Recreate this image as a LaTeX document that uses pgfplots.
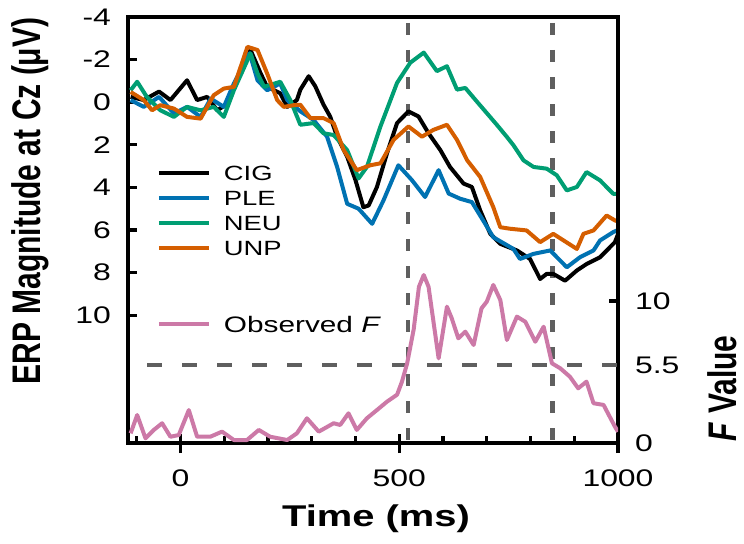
\documentclass[border=0pt]{standalone}
\usepackage{fontspec}
\setmainfont{Liberation Sans}[FakeStretch=1.33]
\newfontfamily\plainfont{Liberation Sans}
\usepackage{graphicx}
\usepackage{pgfplots}
\pgfplotsset{compat=1.18}
\definecolor{cig}{RGB}{0,0,0}
\definecolor{ple}{RGB}{0,114,178}
\definecolor{neu}{RGB}{0,158,115}
\definecolor{unp}{RGB}{213,94,0}
\definecolor{fcol}{RGB}{204,121,167}
\definecolor{dgray}{RGB}{95,95,95}
\begin{document}
\begin{tikzpicture}
\begin{axis}[
  scale only axis, width=245pt, height=213pt,
  xmin=-120, xmax=1000, ymin=-4, ymax=16, y dir=reverse,
  axis line style={line width=2.2pt},
  xtick={0,500,1000}, xticklabels={0,500,1000},
  minor xtick={-100,100,200,300,400,600,700,800,900},
  ytick={-4,-2,0,2,4,6,8,10}, yticklabels={-4,-2,0,2,4,6,8,10},
  xtick pos=bottom, ytick pos=left, tick align=inside,
  major tick length=4.5pt, minor tick length=3.5pt,
  tick style={black, line width=1.6pt},
  extra x ticks={0,500,1000}, extra x tick labels={},
  extra x tick style={tick align=outside, major tick length=5pt},
  /pgf/number format/assume math mode=true,
  tick label style={font=\fontsize{12}{14}\selectfont},
  yticklabel style={xshift=-5pt},
  xticklabel style={yshift=-10pt},
  legend style={draw=none, fill=none, at={(0.059,0.652)}, anchor=north west,
    inner sep=0pt, outer sep=0pt, font=\fontsize{10.3}{12}\selectfont,
    row sep=5pt, column sep=6.5pt,
    nodes={inner sep=0pt, text height=7.5pt, text depth=0pt}},
  legend cell align=left,
  legend image code/.code={\draw[#1, line width=2pt] (0pt,0pt) -- (25pt,0pt);},
]
\addplot[dgray, line width=2.2pt, dash pattern=on 6pt off 7.5pt, dash phase=10.5pt, forget plot] coordinates {(520,-4) (520,16)};
\addplot[dgray, line width=2.2pt, dash pattern=on 6pt off 7.5pt, dash phase=10.5pt, forget plot] coordinates {(850,-4) (850,16)};

\addplot[cig, line width=2pt, line join=round] coordinates {
(-114,-0.25) (-84,-0.1) (-49,-0.5) (-23,-0.1) (15,-1.03) (38,-0.1) (61,-0.25) (84,0.38) (105,0.1) (122,-0.7)
(160,-2.45) (183,-1.36) (198,-0.72) (228,-0.42) (244,0.22) (266,-0.1) (274,-0.59) (293,-1.22) (308,-0.75)
(327,0.12) (342,0.67) (358,1.62) (381,2.56) (400,3.66) (418,4.93) (430,4.85) (449,3.98) (472,2.4) (495,0.98)
(521,0.43) (544,0.67) (567,1.46) (594,2.25) (616,3.04) (647,3.82) (666,3.98) (685,5.08) (708,6.18)
(731,6.65) (769,6.96) (799,7.36) (822,8.3) (837,8.06)
(852,8.06) (879,8.38) (906,7.9) (928,7.6) (959,7.28) (993,6.57) (1000,6.2)};
\addlegendentry{CIG}

\addplot[ple, line width=2pt, line join=round] coordinates {
(-114,-0.1) (-84,0.22) (-49,-0.25) (-15,0.53) (15,0.22) (46,0.69) (69,-0.17) (99,0.22) (122,-0.88) (158,-2.3)
(176,-1.03) (198,-0.56) (228,-0.88) (244,-0.1) (274,0.43) (304,0.83) (335,1.62) (358,3.04) (381,4.77) (407,5.0)
(438,5.71) (464,4.61) (498,2.96) (529,3.66) (559,4.45) (590,3.19) (613,4.29) (639,4.53) (666,4.69) (692,5.56)
(715,6.34) (761,6.89) (776,7.36) (807,7.12) (845,6.96) (883,7.75) (913,7.28) (944,6.96) (959,6.49) (989,6.1) (1000,6.0)};
\addlegendentry{PLE}

\addplot[neu, line width=2pt, line join=round] coordinates {
(-114,-0.56) (-99,-0.96) (-77,-0.25) (-46,0.38) (-15,0.69) (15,0.22) (46,0.38) (76,0.22) (99,0.69) (122,-0.56)
(160,-2.29) (176,-1.35) (191,-0.72) (228,-0.96) (251,-0.1) (274,1.06) (304,0.98) (327,1.46) (350,1.54) (381,2.25)
(407,3.58) (426,3.04) (457,1.14) (495,-0.91) (525,-1.85) (556,-2.33) (586,-1.46) (609,-1.69) (632,-0.59) (651,-0.67)
(677,-0.04) (700,0.51) (723,1.06) (746,1.63) (761,2.02) (784,2.73) (807,3.04) (837,3.12) (860,3.43)
(883,4.14) (906,3.98) (928,3.28) (959,3.67) (989,4.3) (1000,4.3)};
\addlegendentry{NEU}

\addplot[unp, line width=2pt, line join=round] coordinates {
(-114,-0.48) (-84,-0.1) (-65,0.38) (-46,0.14) (-15,0.3) (15,0.69) (46,0.77) (76,-0.33) (99,-0.64) (122,-0.72)
(153,-2.6) (176,-2.45) (198,-1.35) (221,-0.1) (236,0.22) (259,0.14) (274,0.12) (297,0.75) (327,0.75) (350,0.98)
(373,2.25) (403,3.19) (434,2.96) (457,2.87) (487,1.77) (521,1.14) (552,1.62) (578,1.3) (609,1.06) (632,1.77)
(655,2.72) (685,3.51) (715,4.93) (731,5.87) (753,5.94) (791,6.02) (822,6.57) (852,6.18) (906,6.89) (921,6.18)
(944,6.02) (974,5.32) (993,5.55) (1000,5.6)};
\addlegendentry{UNP}
\end{axis}

\begin{axis}[
  scale only axis, width=245pt, height=213pt,
  xmin=-120, xmax=1000, ymin=0, ymax=30,
  axis x line=none, axis y line*=right,
  axis line style={line width=2.2pt},
  ytick={0,5.5,10}, yticklabels={0,5.5,10},
  tick align=inside, major tick length=4.5pt,
  tick style={black, line width=1.6pt},
  /pgf/number format/assume math mode=true,
  tick label style={font=\fontsize{12}{14}\selectfont},
  yticklabel style={xshift=5pt},
  legend style={draw=none, fill=none, at={(0.059,0.298)}, anchor=north west,
    inner sep=0pt, outer sep=0pt, font=\fontsize{11.2}{13}\selectfont,
    column sep=6.5pt,
    nodes={inner sep=0pt, text height=8pt, text depth=0pt}},
  legend cell align=left,
  legend image code/.code={\draw[#1, line width=2pt] (0pt,0pt) -- (25pt,0pt);},
]
\addplot[dgray, line width=2pt, dash pattern=on 7.5pt off 10pt, dash phase=8pt, forget plot] coordinates {(-120,5.5) (1000,5.5)};
\addplot[fcol, line width=2pt, line join=round] coordinates {
(-114,0.68) (-99,1.97) (-80,0.33) (-61,0.92) (-42,1.39) (-23,0.44) (-4,0.56) (19,2.32) (38,0.44) (68,0.44)
(95,0.8) (122,0.21) (152,0.21) (179,0.92) (205,0.44) (244,0.21) (266,0.68) (289,1.74) (316,0.8) (350,1.39)
(365,1.27) (384,2.09) (403,0.92) (426,1.74) (449,2.32) (472,2.91) (495,3.4) (506,4.3) (518,5.6) (533,8.0)
(545,11.0) (556,11.83) (567,11.0) (590,5.96) (609,9.6) (620,8.78) (635,7.37) (651,7.84) (670,6.9) (688,9.48)
(700,9.95) (715,11.13) (731,10.07) (746,7.25) (769,8.9) (788,8.54) (811,7.13) (830,8.19) (849,5.61) (868,5.26)
(890,4.67) (909,3.85) (928,4.32) (944,2.8) (967,2.68) (993,1.15) (1000,0.8)};
\addlegendentry{Observed \textit{F}}
\end{axis}

\node[rotate=90, anchor=center] at (-49pt,121pt) {\scalebox{1}[1.33]{\plainfont\bfseries\fontsize{15}{18}\selectfont ERP Magnitude at Cz (μV)}};
\node[anchor=base] at (124pt,-41.8pt) {\bfseries\fontsize{15}{18}\selectfont Time (ms)};
\node[rotate=90, anchor=center] at (297pt,27.3pt) {\scalebox{1}[1.33]{\plainfont\bfseries\fontsize{15}{18}\selectfont\textit{F} Value}};

\pgfresetboundingbox
\path (-64pt,-50.5pt) rectangle (308pt,221.5pt);
\end{tikzpicture}
\end{document}
